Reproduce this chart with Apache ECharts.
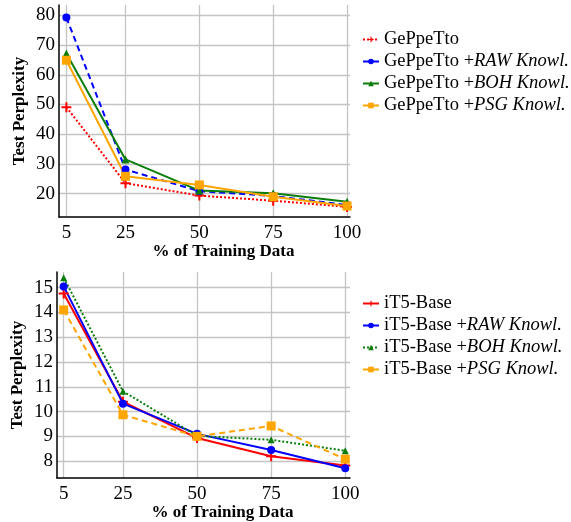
<!DOCTYPE html>
<html>
<head>
<meta charset="utf-8">
<script src="https://cdn.jsdelivr.net/npm/echarts@6/dist/echarts.min.js"></script>
<style>
  html, body { margin: 0; padding: 0; background: #fff; }
  #chart { width: 571px; height: 522px; }
</style>
</head>
<body>
<div id="chart"></div>
<script>
// x positions (% of training data)
var xVals = [5, 25, 50, 75, 100];
var xTicks = [5, 25, 50, 75, 100];

// GePpeTto (top panel)
var gepBase = [49.1, 23.5, 19.3, 17.6, 15.5];
var gepRaw  = [79.3, 28.1, 20.8, 19.2, 16.1];
var gepBoh  = [67.2, 31.5, 21.0, 20.1, 17.2];
var gepPsg  = [64.9, 25.8, 22.9, 18.9, 15.8];
var gepYTicks = [20, 30, 40, 50, 60, 70, 80];

// iT5-Base (bottom panel)
var it5Base = [14.76, 10.40, 8.93, 8.20, 7.82];
var it5Raw  = [15.05, 10.32, 9.10, 8.45, 7.71];
var it5Boh  = [15.40, 10.82, 9.02, 8.86, 8.42];
var it5Psg  = [14.10, 9.87, 9.00, 9.42, 8.08];
var it5YTicks = [8, 9, 10, 11, 12, 13, 14, 15];

var FONT = "Liberation Serif";
var PLUS = 'path://M4,0H6V4H10V6H6V10H4V6H0V4H4Z';
var DOT = [2, 2], DASH = [6, 4];

function pairs(vals) {
    return xVals.map(function(x, i) { return [x, vals[i]]; });
}

function mkSeries(name, vals, idx, color, symbol, size, dash) {
    return {
        name: name, type: 'line',
        xAxisIndex: idx, yAxisIndex: idx,
        data: pairs(vals),
        symbol: symbol, symbolSize: size,
        itemStyle: { color: color },
        lineStyle: { color: color, width: 2, type: dash || 'solid' },
        emphasis: { disabled: true },
        animation: false
    };
}

function xAxis(idx, min, max) {
    return {
        type: 'value', gridIndex: idx, min: min, max: max,
        name: '% of Training Data', nameLocation: 'middle', nameGap: 26,
        nameMoveOverlap: false,
        nameTextStyle: { fontFamily: FONT, fontSize: 17, fontWeight: 'bold', color: '#000', padding: [0, 0, 0, 38] },
        axisLine: { lineStyle: { color: '#000', width: 1.5 } },
        axisTick: { show: false, customValues: xTicks },
        axisLabel: { customValues: xTicks, fontFamily: FONT, fontSize: 19, color: '#000', margin: 7 },
        splitLine: { show: true, lineStyle: { color: '#c4c4c4', width: 1.3 } }
    };
}

function yAxis(idx, min, max, ticks) {
    return {
        type: 'value', gridIndex: idx, min: min, max: max,
        name: 'Test Perplexity', nameLocation: 'middle', nameGap: 31,
        nameMoveOverlap: false,
        nameTextStyle: { fontFamily: FONT, fontSize: 17, fontWeight: 'bold', color: '#000' },
        axisLine: { show: true, lineStyle: { color: '#000', width: 1.5 } },
        axisTick: { show: false, customValues: ticks },
        axisLabel: { customValues: ticks, fontFamily: FONT, fontSize: 19, color: '#000', margin: 4 },
        splitLine: { show: true, lineStyle: { color: '#c4c4c4', width: 1.3 } }
    };
}

function legendFmt(name) {
    var k = name.indexOf('+');
    if (k < 0) return name;
    return name.slice(0, k + 1) + '{i|' + name.slice(k + 1) + '}';
}

function legend(top, names) {
    return {
        left: 357, top: top, orient: 'vertical',
        itemWidth: 16, itemHeight: 7, itemGap: 3,
        data: names, formatter: legendFmt,
        selectedMode: false,
        textStyle: {
            fontFamily: FONT, fontSize: 18.5, color: '#000',
            rich: { i: { fontFamily: FONT, fontSize: 18.5, fontStyle: 'italic', color: '#000' } }
        }
    };
}

var gepNames = ['GePpeTto', 'GePpeTto +RAW Knowl.', 'GePpeTto +BOH Knowl.', 'GePpeTto +PSG Knowl.'];
var it5Names = ['iT5-Base', 'iT5-Base +RAW Knowl.', 'iT5-Base +BOH Knowl.', 'iT5-Base +PSG Knowl.'];

var myChart = echarts.init(document.getElementById('chart'));
myChart.setOption({
    backgroundColor: '#fff',
    animation: false,
    grid: [
        { left: 59, top: 5, width: 291, height: 212 },
        { left: 57, top: 272, width: 293, height: 207 }
    ],
    xAxis: [xAxis(0, 2.5, 101), xAxis(1, 2.75, 101.6)],
    yAxis: [yAxis(0, 12.1, 83.5, gepYTicks), yAxis(1, 7.32, 15.63, it5YTicks)],
    legend: [legend(25, gepNames), legend(289, it5Names)],
    series: [
        mkSeries(gepNames[0], gepBase, 0, '#ff0000', PLUS, 10, DOT),
        mkSeries(gepNames[1], gepRaw, 0, '#0000ff', 'circle', 8, DASH),
        mkSeries(gepNames[2], gepBoh, 0, '#0a7d0a', 'triangle', 8),
        mkSeries(gepNames[3], gepPsg, 0, '#ffa500', 'rect', 9),
        mkSeries(it5Names[0], it5Base, 1, '#ff0000', PLUS, 10),
        mkSeries(it5Names[1], it5Raw, 1, '#0000ff', 'circle', 8),
        mkSeries(it5Names[2], it5Boh, 1, '#0a7d0a', 'triangle', 7, DOT),
        mkSeries(it5Names[3], it5Psg, 1, '#ffa500', 'rect', 9, DASH)
    ]
});
</script>
</body>
</html>
